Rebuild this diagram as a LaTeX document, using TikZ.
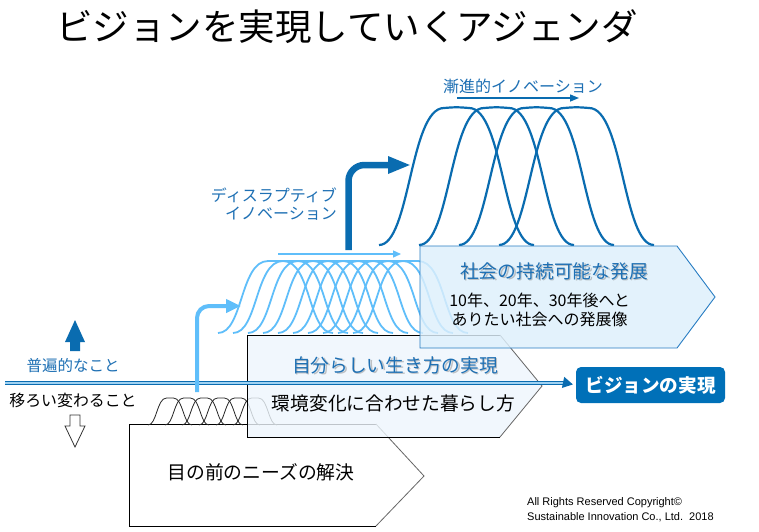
\documentclass[tikz,border=0pt]{standalone}
\usepackage{fontspec}
\setmainfont{Noto Sans CJK JP}
\newfontfamily\arialfont{Liberation Sans}
\usetikzlibrary{arrows.meta}
\definecolor{txtblue}{RGB}{30,112,180}
\definecolor{dblue}{RGB}{10,108,176}
\definecolor{lblue}{RGB}{95,190,250}
\definecolor{boxfill}{RGB}{222,240,252}
\definecolor{boxline}{RGB}{40,125,195}
\definecolor{boxtwo}{RGB}{238,246,253}
\definecolor{band}{RGB}{160,210,242}
\definecolor{visionblue}{RGB}{0,112,184}
\newcommand\fsz[1]{\fontsize{#1}{#1}\selectfont}
\begin{document}
\begin{tikzpicture}[x=1pt,y=-1pt,
  lbl/.style={inner sep=0pt, anchor=center},
  bluelbl/.style={lbl, text=txtblue},
  shadowlbl/.style={lbl, text=black!45, opacity=0.5},
  blackwave/.style={draw=black!85, line width=0.8pt},
  lightwave/.style={draw=lblue, line width=1.8pt},
  darkwave/.style={draw=dblue, line width=2.2pt},
  boxedge/.style={draw=black, line width=0.8pt},
  slantedge/.style={draw=black!60, line width=0.8pt}]
\useasboundingbox (0,0) rectangle (759,531);
\fill[white] (0,0) rectangle (759,531);

% title
\node[lbl, font=\fsz{36.5}] (title) at (347,27) {ビジョンを実現していくアジェンダ};

% box 3
\fill[white] (129,424) -- (376,424) -- (424,476) -- (376,526) -- (129,526) -- cycle;
\draw[boxedge] (376,424) -- (129,424) -- (129,526) -- (376,526);
\draw[slantedge] (376,424) -- (424,476) -- (376,526);

% black waves (W=44)
\foreach \i in {0,...,5}{
  \pgfmathsetmacro\xa{148+17*\i}
  \draw[blackwave] (\xa,425) .. controls ({\xa+8.8},425) and ({\xa+8.8},398) .. ({\xa+18.5},398)
     .. controls ({\xa+22},397.5) .. ({\xa+25.5},398)
     .. controls ({\xa+35.2},398) and ({\xa+35.2},425) .. ({\xa+44},425);
}

% box 2
\fill[boxtwo, fill opacity=0.8] (247,335) -- (500,335) -- (542,386) -- (500,437) -- (247,437) -- cycle;
\draw[boxedge] (500,335) -- (247,335) -- (247,437) -- (500,437);
\draw[slantedge] (500,335) -- (542,386) -- (500,437);

% light blue waves (W=115)
\foreach \i in {0,...,9}{
  \pgfmathsetmacro\xa{218+15*\i}
  \draw[lightwave] (\xa,333) .. controls ({\xa+25},333) and ({\xa+22},261) .. ({\xa+50},261)
     .. controls ({\xa+57.5},260.5) .. ({\xa+65},261)
     .. controls ({\xa+93},261) and ({\xa+90},333) .. ({\xa+115},333);
}

% dark blue waves (W=155)
\foreach \i in {0,...,3}{
  \pgfmathsetmacro\xa{379+40*\i}
  \draw[darkwave] (\xa,245) .. controls ({\xa+31},245) and ({\xa+31},108) .. ({\xa+65},108)
     .. controls ({\xa+77.5},107) .. ({\xa+90},108)
     .. controls ({\xa+124},108) and ({\xa+124},245) .. ({\xa+155},245);
}

% box 1
\fill[boxfill, fill opacity=0.82] (420,246) -- (677,246) -- (715,297) -- (677,348) -- (420,348) -- cycle;
\draw[boxline, line width=0.9pt] (420,246) -- (677,246) -- (715,297) -- (677,348) -- (420,348) -- cycle;

% horizontal double line
\coordinate (hl) at (5,383);
\coordinate (hr) at (566,383);
\fill[band] (5,382) rectangle (566,384.2);
\draw[dblue, line width=1.2pt] (5,381.6) -- (566,381.6);
\draw[dblue, line width=1.2pt] (5,384.6) -- (566,384.6);

% vision box
\node[fill=visionblue, rounded corners=5pt, minimum width=149pt, minimum height=36pt, inner sep=0pt,
      text=white, font=\bfseries\fsz{18.6}] (vision) at (650.5,385) {ビジョンの実現};
\draw[dblue, line width=1.6pt, -{Triangle[length=10pt,width=11pt]}, shorten >=3pt] (hr) -- (vision.west);

% up arrow (blue) and down arrow (outline)
\fill[dblue] (75,320) -- (85,342) -- (80,342) -- (80,351) -- (70,351) -- (70,342) -- (65,342) -- cycle;
\draw[black!80, line width=0.8pt, fill=white] (70,415) -- (80,415) -- (80,426) -- (85,426) -- (75,447) -- (65,426) -- (70,426) -- cycle;

% left labels
\node[bluelbl, font=\fsz{15.5}] (univ) at (73,366) {普遍的なこと};
\node[lbl, font=\fsz{15.9}] (change) at (73,400) {移ろい変わること};

% light blue L arrow
\coordinate (la1) at (197,392);
\coordinate (la2) at (241,306);
\draw[lblue, line width=4pt, rounded corners=12pt, -{Triangle[length=15pt,width=13pt]}] (la1) |- (la2);

% light blue thin arrow
\coordinate (lt1) at (278,254);
\coordinate (lt2) at (401,254);
\draw[lblue, line width=1.3pt, -{Triangle[length=8pt,width=7pt]}] (lt1) -- (lt2);

% dark blue L arrow
\coordinate (da1) at (348.5,250);
\coordinate (da2) at (411,165);
\draw[dblue, line width=6.5pt, rounded corners=16pt, -{Triangle[length=23pt,width=16pt]}] (da1) |- (da2);

% dark blue thin arrow
\coordinate (dt1) at (457,98);
\coordinate (dt2) at (579,98);
\draw[dblue, line width=1.4pt, -{Triangle[length=9pt,width=7pt]}] (dt1) -- (dt2);

% blue labels
\node[bluelbl, font=\fsz{16}] (incr) at (523,86) {漸進的イノベーション};
\node[bluelbl, font=\fsz{16}, anchor=east] (disr1) at (337,195) {ディスラプティブ};
\node[bluelbl, font=\fsz{16}, anchor=east] (disr2) at (337,214) {イノベーション};

% box 1 texts
\node[shadowlbl, font=\fsz{18.8}] (b1s) at (555.5,272.5) {社会の持続可能な発展};
\node[bluelbl, font=\fsz{18.8}] (b1t) at (554,271) {社会の持続可能な発展};
\node[lbl, font=\fsz{16}] (b1a) at (539.5,300) {10年、20年、30年後へと};
\node[lbl, font=\fsz{16}] (b1b) at (539.5,319) {ありたい社会への発展像};

% box 2 texts
\node[shadowlbl, font=\fsz{18.7}] (b2s) at (396.5,366.5) {自分らしい生き方の実現};
\node[bluelbl, font=\fsz{18.7}] (b2t) at (395,365) {自分らしい生き方の実現};
\node[lbl, font=\fsz{18.7}] (b2b) at (393.5,403) {環境変化に合わせた暮らし方};

% box 3 text
\node[lbl, font=\fsz{18.8}] (b3t) at (261,472) {目の前のニーズの解決};

% copyright
\node[lbl, anchor=west, font=\arialfont\fsz{11}] (copy1) at (527,503) {All Rights Reserved Copyright©};
\node[lbl, anchor=west, font=\arialfont\fsz{11}] (copy2) at (527,517) {Sustainable Innovation Co., Ltd.\ \ 2018};
\end{tikzpicture}
\end{document}
